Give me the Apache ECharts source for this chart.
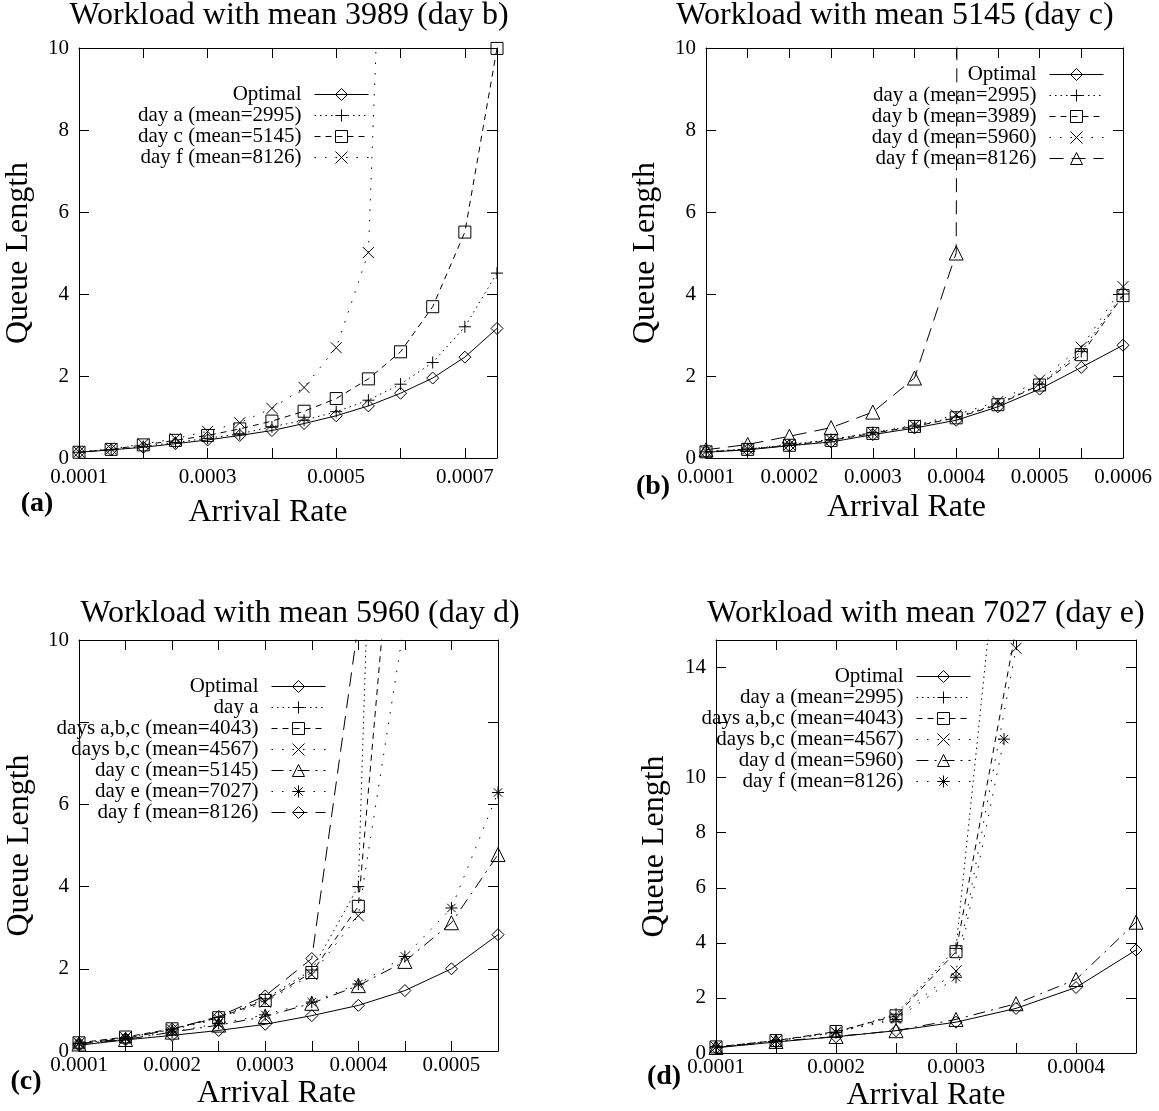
<!DOCTYPE html>
<html>
<head>
<meta charset="utf-8">
<title>Queue length vs arrival rate</title>
<script src="https://cdn.jsdelivr.net/npm/echarts@6/dist/echarts.min.js"></script>
<style>
  html, body { margin: 0; padding: 0; background: #fff; }
  #chart { width: 1159px; height: 1111px; }
</style>
</head>
<body>
<div id="chart"></div>
<script>
// panel (a) - workload day b
const xA = [0.0001, 0.00015, 0.0002, 0.00025, 0.0003, 0.00035, 0.0004, 0.00045, 0.0005, 0.00055, 0.0006, 0.00065, 0.0007, 0.00075];
const aOptimal = [0.14, 0.2, 0.26, 0.35, 0.44, 0.55, 0.67, 0.84, 1.03, 1.27, 1.58, 1.95, 2.46, 3.16];
const aDayA = [0.14, 0.2, 0.28, 0.38, 0.48, 0.59, 0.76, 0.92, 1.13, 1.41, 1.8, 2.33, 3.2, 4.51];
const aDayC = [0.14, 0.21, 0.32, 0.43, 0.55, 0.71, 0.9, 1.14, 1.45, 1.93, 2.59, 3.69, 5.51, 9.99];
const aDayF = [0.15, 0.22, 0.34, 0.47, 0.65, 0.86, 1.21, 1.72, 2.69, 5.01, 26];

// panel (b) - workload day c
const xB = [0.0001, 0.00015, 0.0002, 0.00025, 0.0003, 0.00035, 0.0004, 0.00045, 0.0005, 0.00055, 0.0006];
const bOptimal = [0.14, 0.2, 0.3, 0.39, 0.57, 0.73, 0.92, 1.25, 1.68, 2.21, 2.75];
const bDayA = [0.15, 0.22, 0.32, 0.45, 0.62, 0.78, 1.0, 1.32, 1.8, 2.6, 4.0];
const bDayB = [0.15, 0.21, 0.31, 0.43, 0.6, 0.77, 0.98, 1.3, 1.78, 2.52, 3.96];
const bDayD = [0.16, 0.22, 0.33, 0.45, 0.62, 0.8, 1.05, 1.38, 1.9, 2.7, 4.18];
const bDayF = [0.2, 0.33, 0.53, 0.74, 1.12, 1.95, 5.0, 300];

// panel (c) - workload day d
const xC = [0.0001, 0.00015, 0.0002, 0.00025, 0.0003, 0.00035, 0.0004, 0.00045, 0.0005, 0.00055];
const cOptimal = [0.14, 0.27, 0.38, 0.5, 0.65, 0.86, 1.11, 1.47, 2.0, 2.83];
const cDayA = [0.18, 0.32, 0.53, 0.82, 1.27, 1.97, 4.0, 40];
const cDaysABC = [0.2, 0.34, 0.54, 0.81, 1.23, 1.91, 3.52, 16.5];
const cDaysBC = [0.2, 0.33, 0.52, 0.78, 1.19, 1.86, 3.29, 10.5];
const cDayC = [0.17, 0.28, 0.46, 0.63, 0.84, 1.16, 1.59, 2.18, 3.12, 4.78];
const cDayE = [0.18, 0.3, 0.46, 0.67, 0.88, 1.19, 1.63, 2.3, 3.48, 6.29];
const cDayF = [0.18, 0.3, 0.53, 0.84, 1.34, 2.25, 10.4];

// panel (d) - workload day e
const xD = [0.0001, 0.00015, 0.0002, 0.00025, 0.0003, 0.00035, 0.0004, 0.00045];
const dOptimal = [0.19, 0.4, 0.59, 0.81, 1.12, 1.62, 2.38, 3.74];
const dDayA = [0.22, 0.45, 0.74, 1.41, 3.8, 25];
const dDaysABC = [0.22, 0.45, 0.78, 1.35, 3.68, 15.4];
const dDaysBC = [0.22, 0.44, 0.75, 1.28, 2.98, 14.7];
const dDayD = [0.2, 0.42, 0.6, 0.81, 1.22, 1.79, 2.67, 4.75];
const xDDayF = [0.0001, 0.00015, 0.0002, 0.00025, 0.0003, 0.00034];
const dDayF = [0.22, 0.44, 0.76, 1.22, 2.75, 11.4];

// tick labels
const xLabelsA = [0.0001, 0.0003, 0.0005, 0.0007];
const xLabelsB = [0.0001, 0.0002, 0.0003, 0.0004, 0.0005, 0.0006];
const xLabelsC = [0.0001, 0.0002, 0.0003, 0.0004, 0.0005];
const xLabelsD = [0.0001, 0.0002, 0.0003, 0.0004];
const yLabelsAB = [0, 2, 4, 6, 8, 10];
const yLabelsC = [0, 2, 4, 6, 10];
const yLabelsD = [0, 2, 4, 6, 8, 10, 14];

const titles = [
    'Workload with mean 3989 (day b)',
    'Workload with mean 5145 (day c)',
    'Workload with mean 5960 (day d)',
    'Workload with mean 7027 (day e)'
];

const FONT = '"Liberation Serif", "Times New Roman", serif';

const SYM = {
    diamond: 'diamond',
    plus: 'path://M5,0L5,10M0,5L10,5',
    square: 'rect',
    cross: 'path://M0,0L10,10M0,10L10,0',
    triangle: 'triangle',
    star: 'path://M5,0L5,10M0,5L10,5M1.5,1.5L8.5,8.5M1.5,8.5L8.5,1.5'
};
const DASH = {
    solid: 'solid',
    dot: [1.5, 4],
    dash: [6, 5],
    sparse: [1.5, 9],
    long: [14, 8],
    dashdot: [12, 6, 2, 6]
};

function line(name, g, xs, ys, sym, size, dash) {
    return {
        name: name,
        type: 'line',
        xAxisIndex: g,
        yAxisIndex: g,
        data: ys.map((y, i) => [xs[i], y]),
        symbol: SYM[sym],
        symbolSize: size,
        itemStyle: { color: 'none', borderColor: '#000', borderWidth: 1 },
        lineStyle: { color: '#000', width: 1, type: DASH[dash] },
        emphasis: { disabled: true },
        silent: true
    };
}

const series = [
    line('a|Optimal', 0, xA, aOptimal, 'diamond', 12, 'solid'),
    line('a|day a (mean=2995)', 0, xA, aDayA, 'plus', 12, 'dot'),
    line('a|day c (mean=5145)', 0, xA, aDayC, 'square', 12, 'dash'),
    line('a|day f (mean=8126)', 0, xA, aDayF, 'cross', 11, 'sparse'),

    line('b|Optimal', 1, xB, bOptimal, 'diamond', 12, 'solid'),
    line('b|day a (mean=2995)', 1, xB, bDayA, 'plus', 12, 'dot'),
    line('b|day b (mean=3989)', 1, xB, bDayB, 'square', 12, 'dash'),
    line('b|day d (mean=5960)', 1, xB, bDayD, 'cross', 11, 'sparse'),
    line('b|day f (mean=8126)', 1, xB, bDayF, 'triangle', 14, 'long'),

    line('c|Optimal', 2, xC, cOptimal, 'diamond', 12, 'solid'),
    line('c|day a', 2, xC, cDayA, 'plus', 12, 'dot'),
    line('c|days a,b,c (mean=4043)', 2, xC, cDaysABC, 'square', 12, 'dash'),
    line('c|days b,c (mean=4567)', 2, xC, cDaysBC, 'cross', 11, 'sparse'),
    line('c|day c (mean=5145)', 2, xC, cDayC, 'triangle', 14, 'dashdot'),
    line('c|day e (mean=7027)', 2, xC, cDayE, 'star', 12, 'sparse'),
    line('c|day f (mean=8126)', 2, xC, cDayF, 'diamond', 12, 'long'),

    line('d|Optimal', 3, xD, dOptimal, 'diamond', 12, 'solid'),
    line('d|day a (mean=2995)', 3, xD, dDayA, 'plus', 12, 'dot'),
    line('d|days a,b,c (mean=4043)', 3, xD, dDaysABC, 'square', 12, 'dash'),
    line('d|days b,c (mean=4567)', 3, xD, dDaysBC, 'cross', 11, 'sparse'),
    line('d|day d (mean=5960)', 3, xD, dDayD, 'triangle', 14, 'dashdot'),
    line('d|day f (mean=8126)', 3, xDDayF, dDayF, 'star', 12, 'sparse')
];

// plot boxes [left, top, width, height]
const boxes = [
    [79, 48, 418, 410],
    [706, 48, 417, 410],
    [79, 640, 419, 411],
    [716, 640, 420, 413]
];

const grids = boxes.map(b => ({
    left: b[0], top: b[1], width: b[2], height: b[3],
    outerBoundsMode: 'none', containLabel: false
}));

const tick = { inside: true, length: 10, lineStyle: { color: '#000', width: 1 } };
const axLine = { onZero: false, lineStyle: { color: '#000', width: 1 } };

function pickX(labels) {
    return v => {
        const hit = labels.find(l => Math.abs(l - v) < 1e-9);
        return hit === undefined ? '' : hit.toFixed(4);
    };
}
function pickY(labels) {
    return v => labels.indexOf(Math.round(v * 1000) / 1000) >= 0 ? String(Math.round(v)) : '';
}

function xAxis(g, min, max, step, labels, gap, pad, margin) {
    return {
        type: 'value', gridIndex: g, position: 'bottom', min, max, interval: step,
        name: 'Arrival Rate', nameLocation: 'middle', nameGap: gap, nameMoveOverlap: false,
        nameTextStyle: { fontFamily: FONT, fontSize: 32, color: '#000', padding: [0, pad, 0, 0] },
        axisLine: axLine, axisTick: tick, splitLine: { show: false },
        axisLabel: { fontFamily: FONT, fontSize: 21, color: '#000', margin, formatter: pickX(labels) }
    };
}
function xMirror(g, min, max, step) {
    return {
        type: 'value', gridIndex: g, position: 'top', min, max, interval: step,
        axisLine: axLine, axisTick: tick, splitLine: { show: false }, axisLabel: { show: false }
    };
}
function yAxis(g, max, labels, gap) {
    return {
        type: 'value', gridIndex: g, position: 'left', min: 0, max, interval: 2,
        name: 'Queue Length', nameLocation: 'middle', nameGap: gap, nameMoveOverlap: false,
        nameTextStyle: { fontFamily: FONT, fontSize: 32, color: '#000' },
        axisLine: axLine, axisTick: tick, splitLine: { show: false },
        axisLabel: { fontFamily: FONT, fontSize: 21, color: '#000', margin: 10, formatter: pickY(labels) }
    };
}
function yMirror(g, max) {
    return {
        type: 'value', gridIndex: g, position: 'right', min: 0, max, interval: 2,
        axisLine: axLine, axisTick: tick, splitLine: { show: false }, axisLabel: { show: false }
    };
}

function legend(prefix, right, top, lh) {
    return {
        data: series.filter(s => s.name.startsWith(prefix + '|')).map(s => s.name),
        orient: 'vertical', align: 'right', right, top,
        padding: 0, itemGap: 0, itemWidth: 54, itemHeight: 15,
        selectedMode: false,
        formatter: n => n.split('|')[1],
        lineStyle: { width: 1 },
        itemStyle: { borderWidth: 1 },
        textStyle: { fontFamily: FONT, fontSize: 21, color: '#000', lineHeight: lh, padding: [0, 8, 0, 0] }
    };
}

function text(str, x, y, font) {
    return {
        type: 'text', x, y, silent: true,
        style: { text: str, font, fill: '#000', align: 'center', verticalAlign: 'middle' }
    };
}

const option = {
    animation: false,
    backgroundColor: '#fff',
    grid: grids,
    xAxis: [
        xAxis(0, 0.0001, 0.00075, 0.0001, xLabelsA, 39, 40, 9),
        xAxis(1, 0.0001, 0.0006, 0.00005, xLabelsB, 34, 16, 9),
        xAxis(2, 0.0001, 0.00055, 0.00005, xLabelsC, 27, 24, 4),
        xAxis(3, 0.0001, 0.00045, 0.00005, xLabelsD, 27, 0, 4),
        xMirror(0, 0.0001, 0.00075, 0.0001),
        xMirror(1, 0.0001, 0.0006, 0.00005),
        xMirror(2, 0.0001, 0.00055, 0.00005),
        xMirror(3, 0.0001, 0.00045, 0.00005)
    ],
    yAxis: [
        yAxis(0, 10, yLabelsAB, 44),
        yAxis(1, 10, yLabelsAB, 44),
        yAxis(2, 10, yLabelsC, 43),
        yAxis(3, 15, yLabelsD, 45),
        yMirror(0, 10),
        yMirror(1, 10),
        yMirror(2, 10),
        yMirror(3, 15)
    ],
    legend: [
        legend('a', 790, 84, 16.7),
        legend('b', 55, 64, 15.6),
        legend('c', 833, 676, 17.7),
        legend('d', 188, 666, 18)
    ],
    graphic: [
        text(titles[0], 289, 16, '32px ' + FONT),
        text(titles[1], 895, 16, '32px ' + FONT),
        text(titles[2], 300, 614, '32px ' + FONT),
        text(titles[3], 926, 614, '32px ' + FONT),
        text('(a)', 37, 504, 'bold 28px ' + FONT),
        text('(b)', 653, 487, 'bold 28px ' + FONT),
        text('(c)', 26, 1082, 'bold 28px ' + FONT),
        text('(d)', 664, 1077, 'bold 28px ' + FONT)
    ],
    series: series
};

echarts.init(document.getElementById('chart'), null, { renderer: 'canvas' }).setOption(option);
</script>
</body>
</html>
